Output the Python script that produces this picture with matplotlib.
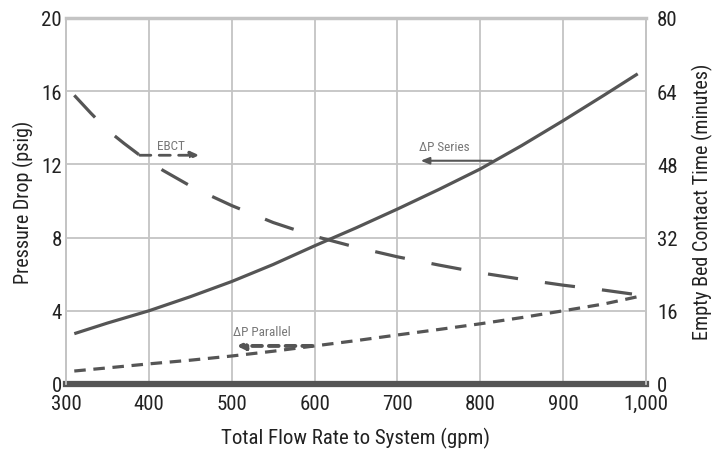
import matplotlib
matplotlib.use("Agg")
import matplotlib.pyplot as plt
from matplotlib import font_manager as fm

# ---- data ----
flow_series = [310, 350, 400, 450, 500, 550, 600, 650, 700, 750, 800, 850, 900, 950, 990]
dp_series = [2.75, 3.33, 4.0, 4.77, 5.6, 6.53, 7.55, 8.53, 9.56, 10.63, 11.75, 13.03, 14.39, 15.8, 16.95]

flow_parallel = [310, 350, 400, 450, 500, 550, 600, 650, 700, 750, 800, 850, 900, 950, 990]
dp_parallel = [0.71, 0.88, 1.1, 1.3, 1.53, 1.79, 2.08, 2.37, 2.68, 2.98, 3.29, 3.63, 4.0, 4.38, 4.77]

flow_ebct = [310, 330, 350, 370, 389, 417, 449, 475, 500, 550, 600, 650, 700, 750, 800, 850, 900, 950, 990]
ebct_min = [63.1, 59.2, 55.5, 52.6, 50.0, 46.7, 43.4, 41.1, 39.0, 35.3, 32.3, 29.9, 27.8, 26.0, 24.3, 22.9, 21.6, 20.5, 19.5]

x_ticks = [300, 400, 500, 600, 700, 800, 900, 1000]
x_ticklabels = ["300", "400", "500", "600", "700", "800", "900", "1,000"]
left_ticks = [0, 4, 8, 12, 16, 20]
right_ticks = [0, 16, 32, 48, 64, 80]

# ---- fonts ----
avail = {f.name for f in fm.fontManager.ttflist}
fam = [f for f in ["Liberation Sans Narrow", "Roboto Condensed", "Liberation Sans"] if f in avail] + ["DejaVu Sans"]
plt.rcParams["font.family"] = fam

line_col = "#555555"
grid_col = "#c4c4c4"
text_col = "#222222"

fig = plt.figure(figsize=(7.13, 4.52), dpi=100)
ax = fig.add_axes([66 / 713, 1 - 385 / 452, 580 / 713, 366 / 452])
ax2 = ax.twinx()

ax.set_xlim(300, 1000)
ax.set_ylim(0, 20)
ax2.set_ylim(0, 80)

ax.set_xticks(x_ticks)
ax.set_xticklabels(x_ticklabels)
ax.set_yticks(left_ticks)
ax2.set_yticks(right_ticks)

ax.grid(True, color=grid_col, linewidth=1.3)
ax.set_axisbelow(True)

for a in (ax, ax2):
    a.tick_params(length=0, labelsize=15, colors=text_col)
    for s in ("left", "right", "top"):
        a.spines[s].set_color(grid_col)
        a.spines[s].set_linewidth(1.3)
    a.spines["bottom"].set_visible(False)
ax.spines["top"].set_linewidth(2.5)
ax.tick_params(axis="x", pad=7)
ax.tick_params(axis="y", pad=3)
ax2.tick_params(axis="y", pad=8)

# lift the two "0" labels a little so they clear the x tick labels
for lab in ax.get_yticklabels()[:1] + ax2.get_yticklabels()[:1]:
    lab.set_verticalalignment("center_baseline")

# thick dark baseline
ax.axhline(0, color=line_col, linewidth=4.5, zorder=5, clip_on=False)

# series curves
ax.plot(flow_series, dp_series, color=line_col, linewidth=2.3, solid_capstyle="butt", zorder=4)
ax.plot(flow_parallel, dp_parallel, color=line_col, linewidth=2.3, dashes=(3.6, 2.4), zorder=4)
ax2.plot(flow_ebct, ebct_min, color=line_col, linewidth=2.3, dashes=(9.5, 8.5), zorder=4)

# annotations
ax.annotate("", xy=(461, 12.5), xytext=(389, 12.5),
            arrowprops=dict(arrowstyle="-|>,head_length=0.5,head_width=0.22", color=line_col,
                            linewidth=2.0, linestyle=(0, (4, 3)), shrinkA=0, shrinkB=0))
ax.text(427, 13.05, "EBCT", fontsize=9.5, color="#777777", ha="center", va="center")

ax.annotate("", xy=(728, 12.2), xytext=(814, 12.2),
            arrowprops=dict(arrowstyle="-|>,head_length=0.5,head_width=0.2", color=line_col,
                            linewidth=1.5, shrinkA=0, shrinkB=0))
ax.text(756, 13.0, "\u0394P Series", fontsize=9.5, color="#777777", ha="center", va="center")

ax.annotate("", xy=(506, 2.08), xytext=(597, 2.08),
            arrowprops=dict(arrowstyle="-|>,head_length=0.45,head_width=0.22", color=line_col,
                            linewidth=2.8, linestyle=(0, (2.5, 1.8)), shrinkA=0, shrinkB=0))
ax.text(536, 2.85, "\u0394P Parallel", fontsize=9.5, color="#777777", ha="center", va="center")

ax.set_ylabel("Pressure Drop (psig)", fontsize=14.5, color=text_col, labelpad=5)
ax2.set_ylabel("Empty Bed Contact Time (minutes)", fontsize=14.5, color=text_col, labelpad=10)
ax.set_xlabel("Total Flow Rate to System (gpm)", fontsize=15, color=text_col, labelpad=10)

fig.savefig("out.png", dpi=100)
